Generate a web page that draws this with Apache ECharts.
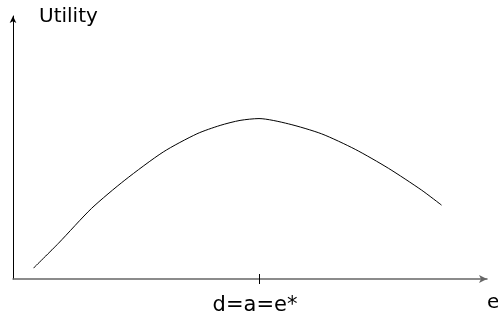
<!DOCTYPE html>
<html>
<head>
<meta charset="utf-8">
<script src="https://cdn.jsdelivr.net/npm/echarts@6/dist/echarts.min.js"></script>
<style>
  html, body { margin: 0; padding: 0; background: #fff; }
  #my-charts { width: 498px; height: 322px; }
</style>
</head>
<body>
<div id="my-charts"></div>
<script>
// effort (x) and utility (y), arbitrary units 0..100
var effort = [4.3, 9.6, 16.6, 23.6, 31.7, 38.8, 43.7, 47.9, 51.9, 58.1, 65.1, 72.2, 79.2, 86.2, 90.4]
var utility = [4.1, 13.6, 26.9, 37.6, 48.3, 55.2, 58.4, 60.3, 61.0, 59.0, 55.2, 49.3, 42.1, 33.8, 28.1]
var eStar = 51.9
var eStarLabel = 'd=a=e*'
var xName = 'e'
var yName = 'Utility'

var myChart = echarts.init(document.getElementById('my-charts'))
var font = 'DejaVu Sans'

var points = effort.map(function (x, i) { return [x, utility[i]] })

var option = {
  animation: false,
  grid: { left: 13, right: 11, top: 16, bottom: 43, containLabel: false, outerBoundsMode: 'none' },
  xAxis: [
    {
      type: 'value',
      min: 0,
      max: 100,
      name: xName,
      nameLocation: 'end',
      nameGap: 0,
      nameTextStyle: {
        color: '#000', fontFamily: font, fontSize: 20,
        align: 'left', verticalAlign: 'top', padding: [14, 0, 0, 0]
      },
      axisLine: {
        lineStyle: { color: '#666', width: 1.5 },
        symbol: ['none', 'arrow'],
        symbolSize: [6, 8]
      },
      axisTick: { show: true, inside: true, length: 5, customValues: [eStar], lineStyle: { color: '#000' } },
      axisLabel: {
        customValues: [eStar],
        formatter: function () { return eStarLabel },
        color: '#000', fontFamily: font, fontSize: 21, margin: 16,
        padding: [0, 8, 0, 0]
      },
      splitLine: { show: false }
    },
    {
      type: 'value',
      min: 0,
      max: 100,
      position: 'bottom',
      axisLine: { show: false },
      axisTick: { show: true, length: 5, customValues: [eStar], lineStyle: { color: '#000' } },
      axisLabel: { show: false },
      splitLine: { show: false }
    }
  ],
  yAxis: {
    type: 'value',
    min: 0,
    max: 100,
    name: yName,
    nameLocation: 'end',
    nameGap: 0,
    nameTextStyle: {
      color: '#000', fontFamily: font, fontSize: 20,
      align: 'left', verticalAlign: 'top', padding: [-9, 0, 0, 26]
    },
    axisLine: {
      show: true,
      lineStyle: { color: '#000', width: 1 },
      symbol: ['none', 'arrow'],
      symbolSize: [5, 7]
    },
    axisTick: { show: false },
    axisLabel: { show: false },
    splitLine: { show: false }
  },
  series: [
    {
      type: 'line',
      data: points,
      smooth: 0.25,
      showSymbol: false,
      lineStyle: { color: '#000', width: 1 }
    }
  ]
}

myChart.setOption(option)
</script>
</body>
</html>
